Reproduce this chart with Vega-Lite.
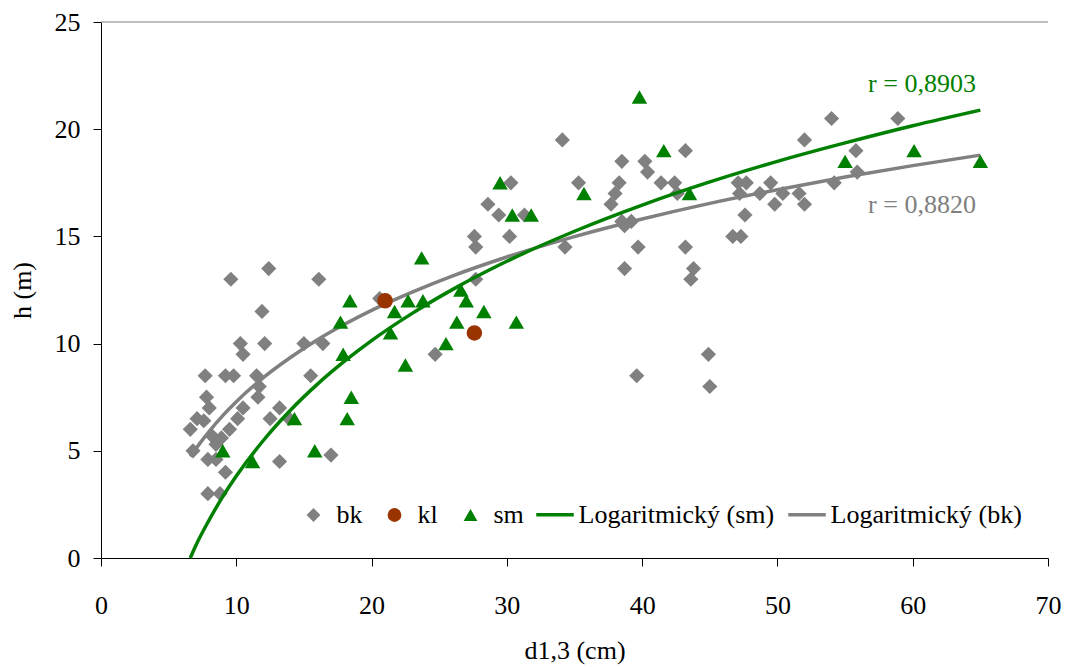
{
  "$schema": "https://vega.github.io/schema/vega-lite/v6.json",
  "width": 947,
  "height": 536,
  "autosize": {"type": "none"},
  "padding": {"left": 101, "top": 22, "right": 18, "bottom": 109},
  "background": "#ffffff",
  "config": {
    "view": {"stroke": null},
    "font": "Liberation Serif",
    "axis": {
      "grid": false,
      "domainColor": "#000000",
      "tickColor": "#000000",
      "domainWidth": 1,
      "tickWidth": 1,
      "tickSize": 8,
      "labelFont": "Liberation Serif",
      "labelFontSize": 26,
      "labelColor": "#000000",
      "labelFlush": false,
      "labelOverlap": false,
      "titleFont": "Liberation Serif",
      "titleFontSize": 26,
      "titleFontWeight": "normal",
      "titleColor": "#000000"
    },
    "legend": {
      "labelFont": "Liberation Serif",
      "labelFontSize": 26,
      "labelColor": "#000000",
      "labelLimit": 0,
      "padding": 0
    }
  },
  "datasets": {
    "one": [{}],
    "pts": [
      {"d": 9.6, "h": 13.0, "series": "bk"},
      {"d": 12.4, "h": 13.5, "series": "bk"},
      {"d": 16.1, "h": 13.0, "series": "bk"},
      {"d": 11.9, "h": 11.5, "series": "bk"},
      {"d": 10.3, "h": 10.0, "series": "bk"},
      {"d": 12.1, "h": 10.0, "series": "bk"},
      {"d": 10.5, "h": 9.5, "series": "bk"},
      {"d": 15.0, "h": 10.0, "series": "bk"},
      {"d": 16.4, "h": 10.0, "series": "bk"},
      {"d": 7.7, "h": 8.5, "series": "bk"},
      {"d": 9.2, "h": 8.5, "series": "bk"},
      {"d": 9.8, "h": 8.5, "series": "bk"},
      {"d": 11.5, "h": 8.5, "series": "bk"},
      {"d": 15.5, "h": 8.5, "series": "bk"},
      {"d": 11.7, "h": 8.0, "series": "bk"},
      {"d": 7.8, "h": 7.5, "series": "bk"},
      {"d": 11.6, "h": 7.5, "series": "bk"},
      {"d": 8.0, "h": 7.0, "series": "bk"},
      {"d": 10.5, "h": 7.0, "series": "bk"},
      {"d": 13.2, "h": 7.0, "series": "bk"},
      {"d": 7.1, "h": 6.5, "series": "bk"},
      {"d": 7.6, "h": 6.4, "series": "bk"},
      {"d": 10.1, "h": 6.5, "series": "bk"},
      {"d": 12.5, "h": 6.5, "series": "bk"},
      {"d": 13.9, "h": 6.5, "series": "bk"},
      {"d": 6.6, "h": 6.0, "series": "bk"},
      {"d": 9.5, "h": 6.0, "series": "bk"},
      {"d": 8.2, "h": 5.7, "series": "bk"},
      {"d": 8.9, "h": 5.6, "series": "bk"},
      {"d": 8.5, "h": 5.3, "series": "bk"},
      {"d": 6.8, "h": 5.0, "series": "bk"},
      {"d": 7.9, "h": 4.6, "series": "bk"},
      {"d": 8.5, "h": 4.6, "series": "bk"},
      {"d": 9.2, "h": 4.0, "series": "bk"},
      {"d": 13.2, "h": 4.5, "series": "bk"},
      {"d": 17.0, "h": 4.8, "series": "bk"},
      {"d": 7.9, "h": 3.0, "series": "bk"},
      {"d": 8.8, "h": 3.0, "series": "bk"},
      {"d": 20.6, "h": 12.1, "series": "bk"},
      {"d": 24.7, "h": 9.5, "series": "bk"},
      {"d": 30.3, "h": 17.5, "series": "bk"},
      {"d": 28.6, "h": 16.5, "series": "bk"},
      {"d": 29.4, "h": 16.0, "series": "bk"},
      {"d": 31.3, "h": 16.0, "series": "bk"},
      {"d": 27.6, "h": 15.0, "series": "bk"},
      {"d": 27.7, "h": 14.5, "series": "bk"},
      {"d": 30.2, "h": 15.0, "series": "bk"},
      {"d": 27.7, "h": 13.0, "series": "bk"},
      {"d": 34.1, "h": 19.5, "series": "bk"},
      {"d": 38.5, "h": 18.5, "series": "bk"},
      {"d": 40.2, "h": 18.5, "series": "bk"},
      {"d": 43.2, "h": 19.0, "series": "bk"},
      {"d": 40.4, "h": 18.0, "series": "bk"},
      {"d": 35.3, "h": 17.5, "series": "bk"},
      {"d": 38.3, "h": 17.5, "series": "bk"},
      {"d": 41.4, "h": 17.5, "series": "bk"},
      {"d": 42.4, "h": 17.5, "series": "bk"},
      {"d": 38.0, "h": 17.0, "series": "bk"},
      {"d": 37.7, "h": 16.5, "series": "bk"},
      {"d": 42.6, "h": 17.0, "series": "bk"},
      {"d": 38.5, "h": 15.7, "series": "bk"},
      {"d": 39.2, "h": 15.7, "series": "bk"},
      {"d": 38.7, "h": 15.5, "series": "bk"},
      {"d": 34.3, "h": 14.5, "series": "bk"},
      {"d": 39.7, "h": 14.5, "series": "bk"},
      {"d": 43.2, "h": 14.5, "series": "bk"},
      {"d": 38.7, "h": 13.5, "series": "bk"},
      {"d": 43.8, "h": 13.5, "series": "bk"},
      {"d": 43.6, "h": 13.0, "series": "bk"},
      {"d": 44.9, "h": 9.5, "series": "bk"},
      {"d": 39.6, "h": 8.5, "series": "bk"},
      {"d": 45.0, "h": 8.0, "series": "bk"},
      {"d": 47.1, "h": 17.5, "series": "bk"},
      {"d": 47.7, "h": 17.5, "series": "bk"},
      {"d": 49.5, "h": 17.5, "series": "bk"},
      {"d": 47.2, "h": 17.0, "series": "bk"},
      {"d": 48.7, "h": 17.0, "series": "bk"},
      {"d": 50.4, "h": 17.0, "series": "bk"},
      {"d": 51.6, "h": 17.0, "series": "bk"},
      {"d": 49.8, "h": 16.5, "series": "bk"},
      {"d": 52.0, "h": 16.5, "series": "bk"},
      {"d": 47.6, "h": 16.0, "series": "bk"},
      {"d": 46.7, "h": 15.0, "series": "bk"},
      {"d": 47.3, "h": 15.0, "series": "bk"},
      {"d": 54.0, "h": 20.5, "series": "bk"},
      {"d": 58.9, "h": 20.5, "series": "bk"},
      {"d": 52.0, "h": 19.5, "series": "bk"},
      {"d": 55.8, "h": 19.0, "series": "bk"},
      {"d": 55.9, "h": 18.0, "series": "bk"},
      {"d": 54.2, "h": 17.5, "series": "bk"},
      {"d": 21.0, "h": 12.0, "series": "kl"},
      {"d": 27.6, "h": 10.5, "series": "kl"},
      {"d": 9.0, "h": 5.0, "series": "sm"},
      {"d": 11.2, "h": 4.5, "series": "sm"},
      {"d": 15.8, "h": 5.0, "series": "sm"},
      {"d": 14.3, "h": 6.5, "series": "sm"},
      {"d": 18.2, "h": 6.5, "series": "sm"},
      {"d": 18.5, "h": 7.5, "series": "sm"},
      {"d": 17.9, "h": 9.5, "series": "sm"},
      {"d": 17.7, "h": 11.0, "series": "sm"},
      {"d": 18.4, "h": 12.0, "series": "sm"},
      {"d": 21.4, "h": 10.5, "series": "sm"},
      {"d": 21.7, "h": 11.5, "series": "sm"},
      {"d": 22.5, "h": 9.0, "series": "sm"},
      {"d": 22.7, "h": 12.0, "series": "sm"},
      {"d": 23.8, "h": 12.0, "series": "sm"},
      {"d": 23.7, "h": 14.0, "series": "sm"},
      {"d": 25.5, "h": 10.0, "series": "sm"},
      {"d": 26.3, "h": 11.0, "series": "sm"},
      {"d": 26.6, "h": 12.5, "series": "sm"},
      {"d": 27.0, "h": 12.0, "series": "sm"},
      {"d": 28.3, "h": 11.5, "series": "sm"},
      {"d": 30.7, "h": 11.0, "series": "sm"},
      {"d": 29.5, "h": 17.5, "series": "sm"},
      {"d": 30.4, "h": 16.0, "series": "sm"},
      {"d": 31.8, "h": 16.0, "series": "sm"},
      {"d": 35.7, "h": 17.0, "series": "sm"},
      {"d": 39.8, "h": 21.5, "series": "sm"},
      {"d": 41.6, "h": 19.0, "series": "sm"},
      {"d": 43.5, "h": 17.0, "series": "sm"},
      {"d": 55.0, "h": 18.5, "series": "sm"},
      {"d": 60.1, "h": 19.0, "series": "sm"},
      {"d": 65.0, "h": 18.5, "series": "sm"}
    ],
    "trend": [
      {"d": 6.6, "h": 4.73, "series": "Logaritmický (bk)"},
      {"d": 7, "h": 5.09, "series": "Logaritmický (bk)"},
      {"d": 8, "h": 5.91, "series": "Logaritmický (bk)"},
      {"d": 9, "h": 6.64, "series": "Logaritmický (bk)"},
      {"d": 10, "h": 7.29, "series": "Logaritmický (bk)"},
      {"d": 12, "h": 8.41, "series": "Logaritmický (bk)"},
      {"d": 14, "h": 9.35, "series": "Logaritmický (bk)"},
      {"d": 16, "h": 10.18, "series": "Logaritmický (bk)"},
      {"d": 18, "h": 10.9, "series": "Logaritmický (bk)"},
      {"d": 20, "h": 11.55, "series": "Logaritmický (bk)"},
      {"d": 23, "h": 12.4, "series": "Logaritmický (bk)"},
      {"d": 26, "h": 13.16, "series": "Logaritmický (bk)"},
      {"d": 30, "h": 14.04, "series": "Logaritmický (bk)"},
      {"d": 35, "h": 14.99, "series": "Logaritmický (bk)"},
      {"d": 40, "h": 15.81, "series": "Logaritmický (bk)"},
      {"d": 45, "h": 16.54, "series": "Logaritmický (bk)"},
      {"d": 50, "h": 17.18, "series": "Logaritmický (bk)"},
      {"d": 55, "h": 17.77, "series": "Logaritmický (bk)"},
      {"d": 60, "h": 18.3, "series": "Logaritmický (bk)"},
      {"d": 65, "h": 18.79, "series": "Logaritmický (bk)"},
      {"d": 6.6, "h": 0.0, "series": "Logaritmický (sm)"},
      {"d": 7, "h": 0.57, "series": "Logaritmický (sm)"},
      {"d": 8, "h": 1.78, "series": "Logaritmický (sm)"},
      {"d": 9, "h": 2.86, "series": "Logaritmický (sm)"},
      {"d": 10, "h": 3.82, "series": "Logaritmický (sm)"},
      {"d": 12, "h": 5.48, "series": "Logaritmický (sm)"},
      {"d": 14, "h": 6.89, "series": "Logaritmický (sm)"},
      {"d": 16, "h": 8.11, "series": "Logaritmický (sm)"},
      {"d": 18, "h": 9.18, "series": "Logaritmický (sm)"},
      {"d": 20, "h": 10.14, "series": "Logaritmický (sm)"},
      {"d": 23, "h": 11.41, "series": "Logaritmický (sm)"},
      {"d": 26, "h": 12.53, "series": "Logaritmický (sm)"},
      {"d": 30, "h": 13.84, "series": "Logaritmický (sm)"},
      {"d": 35, "h": 15.24, "series": "Logaritmický (sm)"},
      {"d": 40, "h": 16.46, "series": "Logaritmický (sm)"},
      {"d": 45, "h": 17.54, "series": "Logaritmický (sm)"},
      {"d": 50, "h": 18.5, "series": "Logaritmický (sm)"},
      {"d": 55, "h": 19.36, "series": "Logaritmický (sm)"},
      {"d": 60, "h": 20.16, "series": "Logaritmický (sm)"},
      {"d": 65, "h": 20.89, "series": "Logaritmický (sm)"}
    ]
  },
  "layer": [
    {
      "data": {"name": "pts"},
      "transform": [{"filter": "datum.series === 'bk'"}],
      "mark": {"type": "point", "filled": true, "size": 230, "opacity": 1, "strokeWidth": 0},
      "encoding": {
        "x": {
          "field": "d", "type": "quantitative",
          "scale": {"domain": [0, 70], "nice": false, "zero": false},
          "axis": {"values": [0, 10, 20, 30, 40, 50, 60, 70], "title": "d1,3 (cm)", "labelPadding": 26, "titlePadding": 19}
        },
        "y": {
          "field": "h", "type": "quantitative",
          "scale": {"domain": [0, 25], "nice": false, "zero": false},
          "axis": {"values": [0, 5, 10, 15, 20, 25], "title": "h (m)", "labelPadding": 13, "titlePadding": 19}
        },
        "fill": {
          "field": "series", "type": "nominal",
          "scale": {"domain": ["bk", "kl", "sm"], "range": ["#808080", "#993300", "#008000"]},
          "legend": {"title": null, "orient": "none", "direction": "horizontal", "legendX": 199.5, "legendY": 480, "symbolSize": 190, "labelOffset": 10, "columnPadding": 19, "symbolStrokeWidth": 0}
        },
        "shape": {
          "field": "series", "type": "nominal",
          "scale": {"domain": ["bk", "kl", "sm"], "range": ["diamond", "circle", "triangle-up"]},
          "legend": {"title": null, "orient": "none", "direction": "horizontal", "legendX": 199.5, "legendY": 480, "symbolSize": 190, "labelOffset": 10, "columnPadding": 19, "symbolStrokeWidth": 0}
        }
      }
    },
    {
      "data": {"name": "one"},
      "mark": {"type": "rule", "color": "#808080", "strokeWidth": 1},
      "encoding": {"y": {"datum": 25}}
    },
    {
      "data": {"name": "trend"},
      "mark": {"type": "line", "strokeWidth": 3.5, "interpolate": "monotone"},
      "encoding": {
        "x": {"field": "d", "type": "quantitative"},
        "y": {"field": "h", "type": "quantitative"},
        "stroke": {
          "field": "series", "type": "nominal",
          "scale": {"domain": ["Logaritmický (sm)", "Logaritmický (bk)"], "range": ["#008000", "#808080"]},
          "legend": {"title": null, "orient": "none", "direction": "horizontal", "legendX": 433.5, "legendY": 472, "symbolType": "stroke", "symbolSize": 1406, "symbolStrokeWidth": 3.5, "labelOffset": 3, "columnPadding": 6, "labelLimit": 0}
        }
      }
    },
    {
      "data": {"name": "pts"},
      "transform": [{"filter": "datum.series !== 'bk'"}],
      "mark": {"type": "point", "filled": true, "size": 240, "opacity": 1, "strokeWidth": 0},
      "encoding": {
        "x": {"field": "d", "type": "quantitative"},
        "y": {"field": "h", "type": "quantitative"},
        "fill": {"field": "series", "type": "nominal"},
        "shape": {"field": "series", "type": "nominal"}
      }
    },
    {
      "data": {"name": "one"},
      "mark": {"type": "text", "align": "left", "baseline": "alphabetic", "fontSize": 26, "font": "Liberation Serif", "color": "#008000"},
      "encoding": {"x": {"datum": 56.7}, "y": {"datum": 21.75}, "text": {"value": "r = 0,8903"}}
    },
    {
      "data": {"name": "one"},
      "mark": {"type": "text", "align": "left", "baseline": "alphabetic", "fontSize": 26, "font": "Liberation Serif", "color": "#808080"},
      "encoding": {"x": {"datum": 56.7}, "y": {"datum": 16.07}, "text": {"value": "r = 0,8820"}}
    }
  ]
}
